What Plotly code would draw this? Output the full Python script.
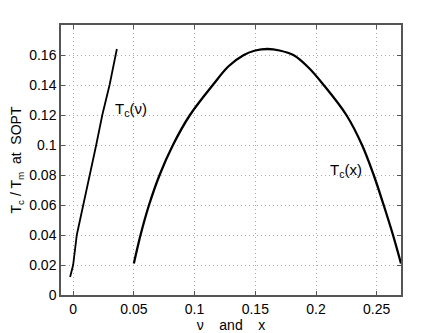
import plotly.graph_objects as go

# T_c(nu) branch
nu_vals = [-0.0025, 0.0, 0.003, 0.0085, 0.0135, 0.019, 0.024, 0.030, 0.036]
tc_nu = [0.012, 0.020, 0.040, 0.060, 0.080, 0.100, 0.120, 0.140, 0.164]

# T_c(x) branch
x_vals = [0.050, 0.0555, 0.0625, 0.0712, 0.0822, 0.0962, 0.1155, 0.128, 0.1406, 0.150,
          0.160, 0.170, 0.1817, 0.194, 0.2063, 0.2250, 0.2379, 0.2475, 0.2557, 0.2634,
          0.270]
tc_x = [0.021, 0.040, 0.060, 0.080, 0.100, 0.120, 0.1405, 0.1525, 0.1600, 0.1630,
        0.1640, 0.1630, 0.1598, 0.1515, 0.140, 0.120, 0.100, 0.080, 0.060, 0.040,
        0.021]

y_ticks = [0, 0.02, 0.04, 0.06, 0.08, 0.1, 0.12, 0.14, 0.16]
x_ticks = [0, 0.05, 0.1, 0.15, 0.2, 0.25]

font = "Liberation Sans, Arial, sans-serif"

fig = go.Figure()
fig.add_trace(go.Scatter(x=nu_vals, y=tc_nu, mode="lines",
                         line=dict(color="black", width=1.8), showlegend=False))
fig.add_trace(go.Scatter(x=x_vals, y=tc_x, mode="lines", line_shape="spline",
                         line=dict(color="black", width=2.3), showlegend=False))

fig.add_annotation(x=0.0325, y=0.124, text="T<sub>c</sub>(ν)", showarrow=False,
                   xanchor="left", font=dict(size=15, color="black", family=font))
fig.add_annotation(x=0.2100, y=0.083, text="T<sub>c</sub>(x)", showarrow=False,
                   xanchor="left", font=dict(size=15, color="black", family=font))

axis_common = dict(
    showline=True, linecolor="#555555", linewidth=1.5, mirror="ticks",
    ticks="inside", ticklen=4, tickcolor="#555555", automargin=False,
    showgrid=True, gridcolor="#a8a8a8", griddash="1px,3px", gridwidth=1,
    zeroline=False, tickfont=dict(size=14, color="black", family=font),
)

fig.update_xaxes(range=[-0.01, 0.27], tickvals=x_ticks,
                 ticktext=["0", "0.05", "0.1", "0.15", "0.2", "0.25"],
                 title=dict(text="ν\u00a0\u00a0\u00a0\u00a0and\u00a0\u00a0\u00a0\u00a0x",
                            font=dict(size=14, color="black", family=font), standoff=2),
                 **axis_common)
fig.update_yaxes(range=[0, 0.18], tickvals=y_ticks,
                 ticktext=["0", "0.02", "0.04", "0.06", "0.08", "0.1", "0.12", "0.14", "0.16"],
                 title=dict(text="T<sub>c</sub> / T<sub>m</sub>\u00a0\u00a0at\u00a0\u00a0SOPT",
                            font=dict(size=14, color="black", family=font), standoff=10),
                 **axis_common)

# the page adds an 8px body margin, so the figure is drawn 8px smaller
fig.update_layout(width=435, height=325, plot_bgcolor="white", paper_bgcolor="white",
                  margin=dict(l=53, r=42, t=17, b=38))

fig.write_html("out.html")
